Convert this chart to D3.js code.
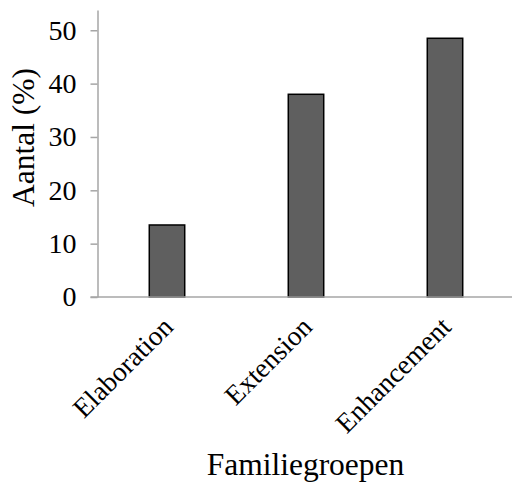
<!DOCTYPE html>
<html><head><meta charset="utf-8">
<script src="https://cdn.jsdelivr.net/npm/d3@7"></script>
<style>body{margin:0;background:#fff}svg{display:block}</style>
</head><body>
<script>
const categories = ["Elaboration", "Extension", "Enhancement"];
const values = [13.5, 38, 48.5];
const yTicks = [0, 10, 20, 30, 40, 50];
const yMax = 53.8;

const W = 512, H = 484;
const svg = d3.select("body").append("svg").attr("width", W).attr("height", H);
const x0 = 97.5, y0 = 297, yTop = 10;
const x = d3.scaleBand().domain(categories).range([x0, 514.5]).paddingInner(0.745).paddingOuter(0.3725);
const y = d3.scaleLinear().domain([0, yMax]).range([y0, yTop]);
const font = "'Liberation Serif','Times New Roman',serif";
const axisColor = "#a6a6a6";

// bars
svg.selectAll("rect.bar").data(values).enter().append("rect")
  .attr("x", (d, i) => x(categories[i]))
  .attr("y", d => y(d))
  .attr("width", x.bandwidth())
  .attr("height", d => y0 - y(d))
  .attr("fill", "#5f5f5f").attr("stroke", "#000").attr("stroke-width", 1.5);

// y axis
const yAxis = svg.append("g").attr("transform", `translate(${x0},0)`)
  .call(d3.axisLeft(y).tickValues(yTicks).tickSize(7).tickPadding(14).tickSizeOuter(0));
yAxis.select(".domain").attr("stroke", axisColor).attr("stroke-width", 1.5);
yAxis.selectAll(".tick line").attr("stroke", axisColor).attr("stroke-width", 1.5);
yAxis.selectAll(".tick text").attr("font-family", font).attr("font-size", 28).attr("fill", "#000");

// x axis line
svg.append("line").attr("x1", x0 - 7).attr("x2", W).attr("y1", y0).attr("y2", y0)
  .attr("stroke", axisColor).attr("stroke-width", 1.5);

// category labels
svg.selectAll("text.cat").data(categories).enter().append("text")
  .attr("transform", d => `translate(${x(d) + x.bandwidth() / 2 - 6},${y0 + 18}) rotate(-45)`)
  .attr("text-anchor", "end").attr("dy", "0.7em")
  .attr("font-family", font).attr("font-size", 27.5).attr("fill", "#000")
  .text(d => d);

// axis titles
svg.append("text").attr("x", (x0 + 514.5) / 2 - 0.5).attr("y", 475)
  .attr("text-anchor", "middle").attr("font-family", font).attr("font-size", 31.5).text("Familiegroepen");
svg.append("text").attr("transform", "translate(34,137.5) rotate(-90)")
  .attr("text-anchor", "middle").attr("font-family", font).attr("font-size", 31.5).text("Aantal (%)");
</script>
</body></html>
